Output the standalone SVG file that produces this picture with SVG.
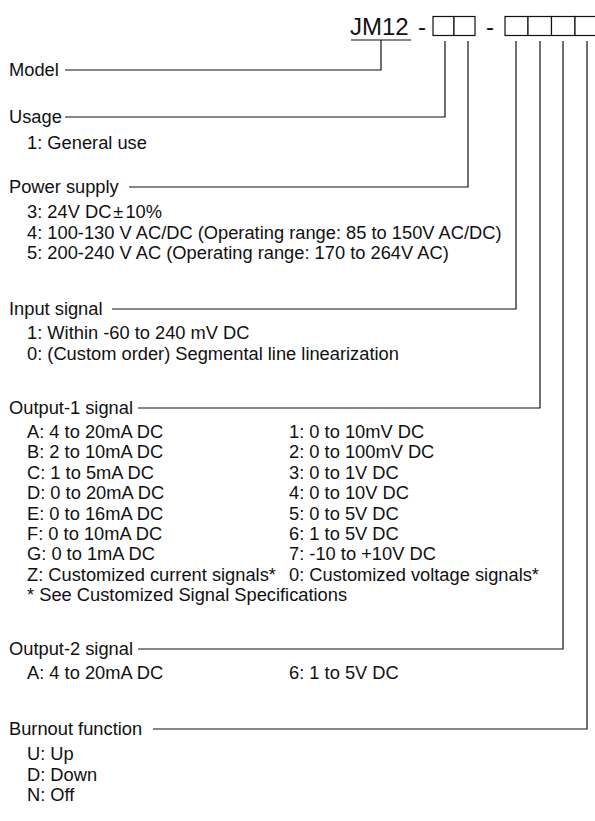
<svg xmlns="http://www.w3.org/2000/svg" width="595" height="821" viewBox="0 0 595 821">
<style>
text{font-family:"Liberation Sans",Arial,Helvetica,sans-serif;font-size:18.3px;fill:#111}
.big{font-size:24px}
.ln{stroke:#111;stroke-width:1.2;fill:none}
.bx{stroke:#111;stroke-width:1.2;fill:#fff}
</style>
<rect width="595" height="821" fill="#fff"/>
<g id="code">
<text class="big" x="350" y="35">JM12</text>
<line class="ln" x1="351" y1="40" x2="411" y2="40"/>
<text class="big" x="418" y="35">-</text>
<rect class="bx" x="433" y="16.5" width="21" height="19"/>
<rect class="bx" x="454" y="16.5" width="21" height="19"/>
<text class="big" x="486" y="35">-</text>
<rect class="bx" x="505" y="16.5" width="23" height="19"/>
<rect class="bx" x="528" y="16.5" width="23.5" height="19"/>
<rect class="bx" x="551.5" y="16.5" width="23.5" height="19"/>
<rect class="bx" x="575" y="16.5" width="23" height="19"/>
</g>
<g id="connectors">
<polyline class="ln" points="65,70 381,70 381,40"/>
<polyline class="ln" points="65,117 445,117 445,41"/>
<polyline class="ln" points="129,187 468,187 468,41"/>
<polyline class="ln" points="112,309 516,309 516,41"/>
<polyline class="ln" points="138,408 540,408 540,41"/>
<polyline class="ln" points="138,649 563,649 563,41"/>
<polyline class="ln" points="153,729 587,729 587,41"/>
</g>
<g id="model"><text x="9" y="76">Model</text></g>
<g id="usage">
<text x="9" y="123">Usage</text>
<text x="27" y="149">1: General use</text>
</g>
<g id="power">
<text x="9" y="193">Power supply</text>
<text x="27" y="218">3: 24V DC<tspan dx="2">±</tspan><tspan dx="2">10%</tspan></text>
<text x="27" y="238.5">4: 100-130 V AC/DC (Operating range: 85 to 150V AC/DC)</text>
<text x="27" y="259">5: 200-240 V AC (Operating range: 170 to 264V AC)</text>
</g>
<g id="input">
<text x="9" y="315">Input signal</text>
<text x="27" y="339">1: Within -60 to 240 mV DC</text>
<text x="27" y="360">0: (Custom order) Segmental line linearization</text>
</g>
<g id="output1">
<text x="9" y="414">Output-1 signal</text>
<text x="27" y="438">A: 4 to 20mA DC</text>
<text x="27" y="458.4">B: 2 to 10mA DC</text>
<text x="27" y="478.8">C: 1 to 5mA DC</text>
<text x="27" y="499.2">D: 0 to 20mA DC</text>
<text x="27" y="519.6">E: 0 to 16mA DC</text>
<text x="27" y="540">F: 0 to 10mA DC</text>
<text x="27" y="560.4">G: 0 to 1mA DC</text>
<text x="27" y="580.8">Z: Customized current signals*</text>
<text x="27" y="601.2">* See Customized Signal Specifications</text>
<text x="289" y="438">1: 0 to 10mV DC</text>
<text x="289" y="458.4">2: 0 to 100mV DC</text>
<text x="289" y="478.8">3: 0 to 1V DC</text>
<text x="289" y="499.2">4: 0 to 10V DC</text>
<text x="289" y="519.6">5: 0 to 5V DC</text>
<text x="289" y="540">6: 1 to 5V DC</text>
<text x="289" y="560.4">7: -10 to +10V DC</text>
<text x="289" y="580.8">0: Customized voltage signals*</text>
</g>
<g id="output2">
<text x="9" y="655">Output-2 signal</text>
<text x="27" y="679">A: 4 to 20mA DC</text>
<text x="289" y="679">6: 1 to 5V DC</text>
</g>
<g id="burnout">
<text x="9" y="735">Burnout function</text>
<text x="27" y="760">U: Up</text>
<text x="27" y="781">D: Down</text>
<text x="27" y="801">N: Off</text>
</g>
</svg>
